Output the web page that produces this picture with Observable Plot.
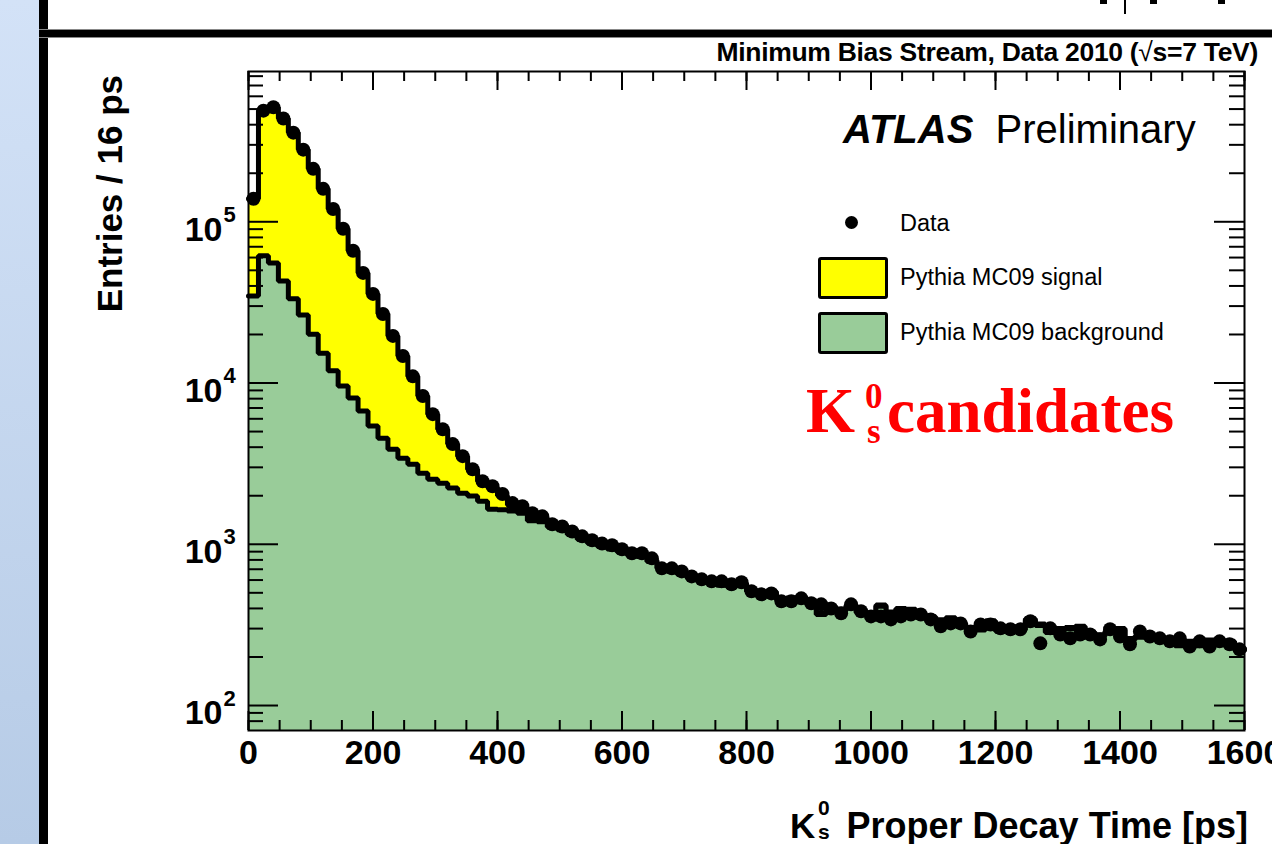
<!DOCTYPE html>
<html>
<head>
<meta charset="utf-8">
<script src="https://cdn.jsdelivr.net/npm/d3@7"></script>
<script src="https://cdn.jsdelivr.net/npm/@observablehq/plot@0.6"></script>
<style>
  html, body { margin: 0; padding: 0; background: #fff; overflow: hidden; }
  #wrap { position: relative; width: 1272px; height: 844px; overflow: hidden; background: #fff;
          font-family: 'Liberation Sans', Arial, Helvetica, sans-serif; color: #000; }
  .abs { position: absolute; white-space: nowrap; line-height: 1; }
  #strip { position: absolute; left: 0; top: 0; width: 39px; height: 844px;
           background: linear-gradient(#d3e2f7, #b6cbe6); }
  #vbar { position: absolute; left: 39px; top: 0; width: 9px; height: 844px; background: #000; }
  #hbar { position: absolute; left: 39px; top: 29px; width: 1233px; height: 7px; background: #000;
          border-top: 1px solid #888; border-bottom: 1px solid #888; }
  #chart { position: absolute; left: 0; top: 0; }
  .frag { position: absolute; background: #000; }
  .red { font-family: 'Liberation Serif', 'Times New Roman', serif; font-weight: bold; color: #f00; }
</style>
</head>
<body>
<div id="wrap">
  <div id="strip"></div>
  <div id="vbar"></div>
  <div id="hbar"></div>
  <div class="frag" style="left:1100px;top:0;width:7px;height:4px"></div>
  <div class="frag" style="left:1124px;top:0;width:2px;height:14px"></div>
  <div class="frag" style="left:1150px;top:0;width:7px;height:4px"></div>
  <div class="frag" style="left:1218px;top:0;width:7px;height:4px"></div>
  <div id="chart"></div>

  <div class="abs" id="title" style="right:14px; top:39px; font-size:26.5px; font-weight:bold; letter-spacing:-0.3px;">Minimum Bias Stream, Data 2010 (<span style="font-weight:normal">√</span><span style="text-decoration:overline">s</span>=7 TeV)</div>

  <div class="abs" style="left:843px; top:109px; font-size:40px;"><b><i>ATLAS</i></b>&nbsp; Preliminary</div>

  <div class="abs" style="left:845px; top:216px; width:13px; height:13px; border-radius:50%; background:#000;"></div>
  <div class="abs" style="left:900px; top:212px; font-size:23.5px;">Data</div>
  <div class="abs" style="left:818px; top:257px; width:64px; height:36px; background:#ffff00; border:3px solid #000; border-radius:3px;"></div>
  <div class="abs" style="left:900px; top:266px; font-size:23.5px;">Pythia MC09 signal</div>
  <div class="abs" style="left:818px; top:312px; width:64px; height:36px; background:#99cc99; border:3px solid #000; border-radius:3px;"></div>
  <div class="abs" style="left:900px; top:321px; font-size:23.5px;">Pythia MC09 background</div>

  <div class="abs red" style="left:806px; top:380px; font-size:63px;">K</div>
  <div class="abs red" style="left:865px; top:381px; font-size:35px; line-height:0.9;">0</div>
  <div class="abs red" style="left:867px; top:416px; font-size:35px; line-height:0.9;">s</div>
  <div class="abs red" style="left:887px; top:380px; font-size:63px;">candidates</div>

  <div class="abs" id="ytitle" style="left:0; top:0; width:400px; text-align:right; font-size:35px; font-weight:bold; transform-origin:0 0; transform:translate(92px,475px) rotate(-90deg);">Entries / 16 ps</div>

  <div class="abs" style="right:24px; top:808px; font-size:36px; font-weight:bold;">Proper Decay Time [ps]</div>
  <div class="abs" style="left:790px; top:808px; font-size:35px; font-weight:bold;">K</div>
  <div class="abs" style="left:818px; top:799px; font-size:21px; line-height:0.9; font-weight:bold;">0</div>
  <div class="abs" style="left:818px; top:823px; font-size:21px; line-height:0.9; font-weight:bold;">s</div>
</div>

<script>
// ---- Data (16 ps bins, 0–1600 ps) ----
const binWidth = 16;
const nBins = 100;

const dataCounts = [
  139000, 489000, 513000, 437000, 357000, 280000, 213000, 160000, 120000, 90600,
  66100, 48200, 35700, 26800, 19600, 14700, 11000, 8300, 6410, 5170,
  4180, 3520, 2920, 2460, 2290, 2050, 1800, 1720, 1560, 1490,
  1330, 1290, 1200, 1120, 1060, 1010, 986, 931, 879, 879,
  818, 709, 709, 679, 632, 606, 589, 589, 565, 581,
  511, 489, 496, 443, 443, 462, 431, 424, 400, 373,
  424, 384, 357, 357, 342, 357, 367, 367, 342, 310,
  323, 323, 288, 318, 318, 301, 297, 297, 333, 243,
  301, 276, 261, 276, 276, 257, 297, 268, 240, 288,
  268, 261, 250, 261, 232, 250, 232, 250, 240, 223
];

const mcBackground = [
  34700, 61500, 55600, 43000, 33300, 26400, 20100, 15300, 11900, 9580,
  8070, 6700, 5410, 4550, 3890, 3420, 3140, 2760, 2530, 2390,
  2230, 2070, 1990, 1850, 1650, 1640, 1610, 1560, 1400, 1380,
  1280, 1230, 1150, 1075, 1020, 972, 935, 897, 858, 840,
  781, 713, 684, 655, 621, 597, 587, 558, 548, 563,
  509, 490, 500, 451, 456, 446, 426, 367, 402, 387,
  412, 377, 363, 412, 373, 392, 388, 363, 348, 334,
  343, 319, 299, 294, 329, 289, 299, 294, 338, 314,
  284, 294, 299, 304, 279, 270, 285, 295, 255, 265,
  270, 260, 250, 235, 245, 235, 250, 240, 245, 221
];

const mcSignal = [
  104000, 428000, 457000, 394000, 324000, 254000, 193000, 145000, 108000, 81000,
  58000, 41500, 30300, 22300, 15700, 11300, 7860, 5540, 3880, 2780,
  1950, 1450, 930, 610, 600, 360, 140, 120, 100, 80,
  60, 50, 40, 35, 30, 28, 25, 23, 22, 20,
  19, 17, 16, 15, 14, 13, 13, 12, 12, 12,
  11, 10, 10, 9, 9, 9, 9, 8, 8, 8,
  8, 8, 7, 8, 7, 8, 7, 7, 7, 6,
  7, 6, 6, 6, 6, 6, 6, 6, 7, 6,
  6, 6, 6, 6, 6, 5, 5, 5, 5, 5,
  5, 5, 5, 5, 5, 5, 5, 5, 5, 4
];

const xMajorTicks = [0, 200, 400, 600, 800, 1000, 1200, 1400, 1600];
const xMinorTicks = d3.range(0, 1601, 50);
const yMajorTicks = [100, 1000, 10000, 100000];
const yMinorTicks = [80, 90, 200, 300, 400, 500, 600, 700, 800, 900,
  2000, 3000, 4000, 5000, 6000, 7000, 8000, 9000,
  20000, 30000, 40000, 50000, 60000, 70000, 80000, 90000,
  200000, 300000, 400000, 500000, 600000, 700000, 800000];

const yDomain = [70, 855000];
const xDomain = [0, 1600];

// ---- Build tables for the marks ----
const rows = d3.range(nBins).map(i => ({
  lo: i * binWidth,
  mid: i * binWidth + binWidth / 2,
  data: dataCounts[i],
  bkg: mcBackground[i],
  total: mcBackground[i] + mcSignal[i]
}));
const steps = [...rows.map(r => ({x: r.lo, bkg: r.bkg, total: r.total})),
  {x: nBins * binWidth, bkg: rows[nBins - 1].bkg, total: rows[nBins - 1].total}];

const W = 1272, H = 844;
const mL = 248, mR = 28, mT = 71, mB = 114;
const fw = W - mL - mR, fh = H - mT - mB;

const chart = Plot.plot({
  width: W, height: H,
  marginLeft: mL, marginRight: mR, marginTop: mT, marginBottom: mB,
  style: {fontFamily: "'Liberation Sans', Arial, Helvetica, sans-serif", background: "transparent", overflow: "visible"},
  x: {domain: xDomain},
  y: {type: "log", domain: yDomain, axis: null},
  marks: [
    Plot.areaY(steps, {x: "x", y1: yDomain[0], y2: "total", curve: "step-after", fill: "#ffff00"}),
    Plot.line(steps, {x: "x", y: "total", curve: "step-after", stroke: "#000", strokeWidth: 5, strokeLinejoin: "miter"}),
    Plot.areaY(steps, {x: "x", y1: yDomain[0], y2: "bkg", curve: "step-after", fill: "#99cc99"}),
    Plot.line(steps, {x: "x", y: "bkg", curve: "step-after", stroke: "#000", strokeWidth: 5, strokeLinejoin: "miter"}),
    Plot.dot(rows, {x: "mid", y: "data", r: 7, fill: "#000", stroke: null}),
    // ticks inside frame
    Plot.tickX(xMajorTicks, {x: d => d, insetTop: fh - 19, stroke: "#000", strokeWidth: 2}),
    Plot.tickX(xMinorTicks, {x: d => d, insetTop: fh - 10, stroke: "#000", strokeWidth: 2}),
    Plot.tickX(xMajorTicks, {x: d => d, insetBottom: fh - 19, stroke: "#000", strokeWidth: 2}),
    Plot.tickX(xMinorTicks, {x: d => d, insetBottom: fh - 10, stroke: "#000", strokeWidth: 2}),
    Plot.tickY(yMajorTicks, {y: d => d, insetRight: fw - 30, stroke: "#000", strokeWidth: 2}),
    Plot.tickY(yMinorTicks, {y: d => d, insetRight: fw - 15, stroke: "#000", strokeWidth: 2}),
    Plot.tickY(yMajorTicks, {y: d => d, insetLeft: fw - 30, stroke: "#000", strokeWidth: 2}),
    Plot.tickY(yMinorTicks, {y: d => d, insetLeft: fw - 15, stroke: "#000", strokeWidth: 2}),
    Plot.frame({stroke: "#000", strokeWidth: 2}),
    Plot.axisX({ticks: xMajorTicks, tickSize: 0, tickPadding: 9, fontSize: 34, fontWeight: "bold", label: null, tickFormat: d3.format("d")}),
    Plot.text(yMajorTicks, {y: d => d, text: () => "10", frameAnchor: "left", textAnchor: "end", dx: -26, dy: 8, fontSize: 34, fontWeight: "bold"}),
    Plot.text(yMajorTicks, {y: d => d, text: d => String(Math.round(Math.log10(d))), frameAnchor: "left", textAnchor: "start", dx: -25, dy: -7, fontSize: 22, fontWeight: "bold"})
  ]
});
document.getElementById("chart").appendChild(chart);
</script>
</body>
</html>
